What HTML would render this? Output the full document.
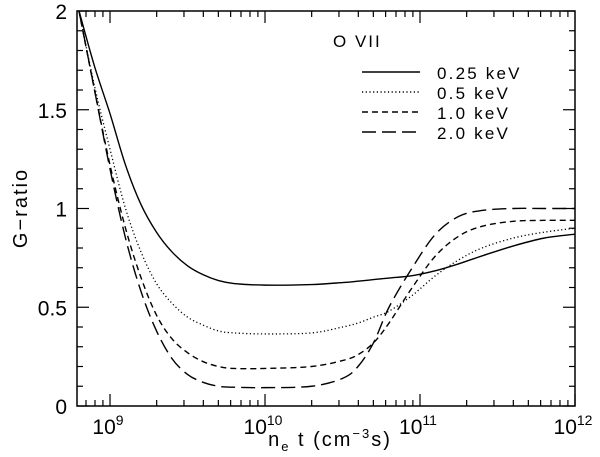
<!DOCTYPE html>
<html><head><meta charset="utf-8"><style>
body{margin:0;background:#fff}
svg{display:block;font-family:"Liberation Sans",sans-serif}
</style></head><body>
<svg id="chart" width="600" height="457">
<rect x="77" y="11" width="498" height="395" fill="none" stroke="#000" stroke-width="1.5"/>
<g id="ticks"></g>
<g id="curves"></g>
<text x="333" y="47" font-size="17" letter-spacing="2">O VII</text>
<g id="legend"></g>
<text x="330" y="446" font-size="20" letter-spacing="2" text-anchor="middle">n<tspan font-size="13" dy="5">e</tspan><tspan dy="-5"> t (cm</tspan><tspan font-size="13" dy="-8">−3</tspan><tspan dy="8">s)</tspan></text>
<text transform="translate(27,208) rotate(-90)" font-size="20" letter-spacing="2" text-anchor="middle">G−ratio</text>
</svg>
<script>
const yTicks=["0","0.5","1","1.5","2"];
const xDecades=[9,10,11,12];
const labels=["0.25 keV","0.5 keV","1.0 keV","2.0 keV"];
const logX=[8.8,8.9,9.0,9.1,9.2,9.3,9.4,9.5,9.6,9.7,9.8,10,10.3,10.5,10.6,10.7,10.8,10.95,11.1,11.25,11.4,11.6,11.8,12];
const g025=[2.0,1.72,1.48,1.22,1.02,0.88,0.78,0.71,0.665,0.635,0.62,0.612,0.615,0.625,0.632,0.64,0.648,0.66,0.685,0.72,0.76,0.81,0.85,0.87];
const g05=[2.0,1.62,1.3,1.0,0.78,0.62,0.52,0.45,0.41,0.38,0.37,0.365,0.37,0.4,0.42,0.45,0.48,0.56,0.66,0.74,0.8,0.85,0.88,0.9];
const g10=[2.0,1.6,1.22,0.9,0.65,0.46,0.34,0.27,0.225,0.2,0.19,0.19,0.2,0.23,0.26,0.32,0.42,0.6,0.76,0.86,0.91,0.935,0.94,0.94];
const g20=[2.0,1.6,1.2,0.85,0.58,0.38,0.24,0.16,0.12,0.1,0.095,0.093,0.1,0.14,0.2,0.32,0.5,0.7,0.87,0.96,0.99,1.0,1.0,1.0];
const series=[g025,g05,g10,g20];
const dashes=["","1.2,2.5","6,4","14,6"];
const NS="http://www.w3.org/2000/svg";
const X0=77,X1=575,Y0=406,Y1=11,LMIN=8.787,LMAX=12;
const xs=l=>X0+(l-LMIN)/(LMAX-LMIN)*(X1-X0);
const ys=v=>Y0-v/2*(Y0-Y1);
const svg=document.getElementById('chart');
const tg=document.getElementById('ticks');
function line(p,x1,y1,x2,y2,w){const e=document.createElementNS(NS,'line');e.setAttribute('x1',x1);e.setAttribute('y1',y1);e.setAttribute('x2',x2);e.setAttribute('y2',y2);e.setAttribute('stroke','#000');e.setAttribute('stroke-width',w||1.2);p.appendChild(e);return e;}
for(let i=0;i<=20;i++){const y=ys(i/10),L=i%5==0?12:6;line(tg,X0,y,X0+L,y);line(tg,X1,y,X1-L,y);}
yTicks.forEach(t=>{const e=document.createElementNS(NS,'text');


e.setAttribute('x',X0-10);e.setAttribute('y',ys(+t)+8);e.setAttribute('text-anchor','end');e.setAttribute('font-size','21');e.textContent=t;svg.appendChild(e);});
for(let d=8;d<=11;d++)for(let m=1;m<=9;m++){const l=d+Math.log10(m);if(l<LMIN||l>LMAX)continue;const x=xs(l),L=m==1?12:6;line(tg,x,Y0,x,Y0-L);line(tg,x,Y1,x,Y1+L);}
{const x=xs(12);line(tg,x,Y0,x,Y0-12);}
xDecades.forEach(d=>{const e=document.createElementNS(NS,'text');


e.setAttribute('x',xs(d)-2);e.setAttribute('y',434);e.setAttribute('text-anchor','middle');e.setAttribute('font-size','21');
e.innerHTML='10<tspan font-size="14" dy="-9">'+d+'</tspan>';svg.appendChild(e);});
const cg=document.getElementById('curves');
function smooth(pts){let d='M'+pts[0][0]+','+pts[0][1];for(let i=0;i<pts.length-1;i++){const p0=pts[i-1]||pts[i],p1=pts[i],p2=pts[i+1],p3=pts[i+2]||p2;
d+=' C'+(p1[0]+(p2[0]-p0[0])/6)+','+(p1[1]+(p2[1]-p0[1])/6)+' '+(p2[0]-(p3[0]-p1[0])/6)+','+(p2[1]-(p3[1]-p1[1])/6)+' '+p2[0]+','+p2[1];}return d;}
const clip=document.createElementNS(NS,'clipPath');clip.id='pc';const cr=document.createElementNS(NS,'rect');cr.setAttribute('x',X0);cr.setAttribute('y',Y1);cr.setAttribute('width',X1-X0);cr.setAttribute('height',Y0-Y1);clip.appendChild(cr);svg.appendChild(clip);
cg.setAttribute('clip-path','url(#pc)');
series.forEach((s,k)=>{const p=document.createElementNS(NS,'path');


p.setAttribute('d',smooth(logX.map((l,i)=>[xs(l),ys(s[i])])));p.setAttribute('fill','none');p.setAttribute('stroke','#000');p.setAttribute('stroke-width',k==1?1.3:1.4);if(dashes[k])p.setAttribute('stroke-dasharray',dashes[k]);cg.appendChild(p);});
const lg=document.getElementById('legend');
labels.forEach((t,k)=>{const y=72+k*20;const l=line(lg,362,y,420,y,1.4);if(dashes[k])l.setAttribute('stroke-dasharray',dashes[k]);


const e=document.createElementNS(NS,'text');


e.setAttribute('x',437);e.setAttribute('y',y+7);e.setAttribute('font-size','17');e.setAttribute('letter-spacing','2.2');e.textContent=t;lg.appendChild(e);});
</script>
</body></html>
